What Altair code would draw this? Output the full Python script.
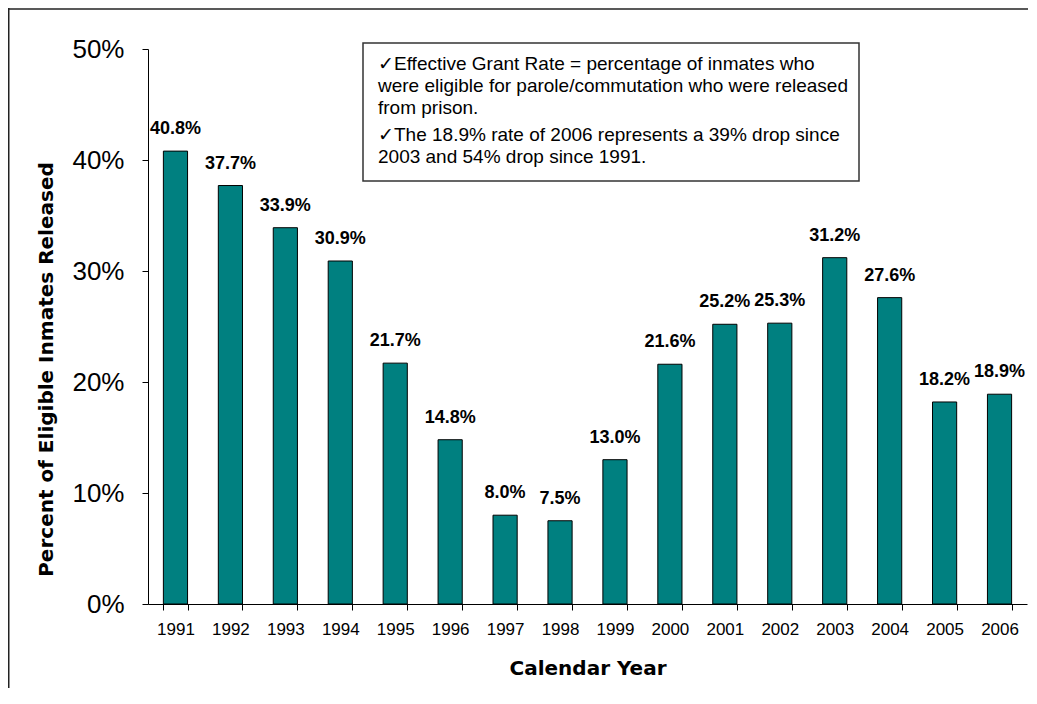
import altair as alt
import pandas as pd

# ---- data ----
years = [str(y) for y in range(1991, 2007)]
rates = [40.8, 37.7, 33.9, 30.9, 21.7, 14.8, 8.0, 7.5, 13.0, 21.6, 25.2, 25.3, 31.2, 27.6, 18.2, 18.9]
y_ticks = [0, 10, 20, 30, 40, 50]
note_1 = [
    "\u2713Effective Grant Rate = percentage of inmates who",
    "were eligible for parole/commutation who were released",
    "from prison.",
]
note_2 = [
    "\u2713The 18.9% rate of 2006 represents a 39% drop since",
    "2003 and 54% drop since 1991.",
]

df = pd.DataFrame({"year": years, "rate": rates})
one = pd.DataFrame({"k": [0]})

W, H = 879, 555
PAD_L, PAD_T, PAD_R, PAD_B = 140, 41, 1, 84
TITLE_FONT = "DejaVu Sans"
FONT = "Liberation Sans"

x_enc = alt.X(
    "year:O",
    sort=years,
    scale=alt.Scale(paddingInner=0.56, paddingOuter=0.28),
    axis=alt.Axis(
        title="Calendar Year",
        labelAngle=0,
        tickBand="extent",
        tickSize=6,
        labelFontSize=17,
        labelPadding=11,
        titleFont=TITLE_FONT,
        titleFontSize=20,
        titleFontWeight="bold",
        titleBaseline="alphabetic",
        titleX=W / 2,
        titleY=70,
        titleAnchor="middle",
    ),
)
y_enc = alt.Y(
    "rate:Q",
    scale=alt.Scale(domain=[0, 50], nice=False),
    axis=alt.Axis(
        values=y_ticks,
        labelExpr="datum.value + '%'",
        tickSize=6,
        labelFontSize=26,
        labelPadding=18,
        title="Percent of Eligible Inmates Released",
        titleFont=TITLE_FONT,
        titleFontSize=20,
        titleFontWeight="bold",
        titleAngle=270,
        titleAlign="center",
        titleBaseline="middle",
        titleX=-102,
        titleY=320,
    ),
)

base = alt.Chart(df).encode(x=x_enc, y=y_enc)

bars = base.mark_bar(color="#008080", stroke="black", strokeWidth=1)

labels = base.transform_calculate(
    label="format(datum.rate, '.1f') + '%'"
).mark_text(
    font=FONT, fontSize=18, fontWeight="bold", baseline="alphabetic", dy=-17, color="black"
).encode(text="label:N")

# outer frame (top and left edges only, kept inside the drawing)
frame_top = alt.Chart(one).mark_rule(color="#222222", strokeWidth=1.5).encode(
    x=alt.value(-PAD_L), x2=alt.value(W + PAD_R), y=alt.value(-PAD_T + 1)
)
frame_left = alt.Chart(one).mark_rule(color="#222222", strokeWidth=1.5).encode(
    x=alt.value(-PAD_L + 0.75), y=alt.value(-PAD_T), y2=alt.value(H + PAD_B)
)

box = alt.Chart(one).mark_rect(
    fill="white", stroke="#333333", strokeWidth=1.5
).encode(x=alt.value(215), x2=alt.value(711), y=alt.value(-6), y2=alt.value(132))

text1 = alt.Chart(one).mark_text(
    text=note_1, align="left", baseline="alphabetic", font=FONT, fontSize=19,
    lineHeight=22, color="black"
).encode(x=alt.value(230), y=alt.value(21))

text2 = alt.Chart(one).mark_text(
    text=note_2, align="left", baseline="alphabetic", font=FONT, fontSize=19,
    lineHeight=22, color="black"
).encode(x=alt.value(230), y=alt.value(92))

chart = alt.layer(frame_top, frame_left, bars, labels, box, text1, text2).properties(
    width=W,
    height=H,
    autosize=alt.AutoSizeParams(type="none"),
    padding={"left": PAD_L, "top": PAD_T, "right": PAD_R, "bottom": PAD_B},
).configure_view(stroke=None).configure_axis(
    grid=False,
    domainColor="black",
    tickColor="black",
    labelColor="black",
    titleColor="black",
    labelFont=FONT,
)

chart.save("out.html", embed_options={"renderer": "svg", "actions": False})
